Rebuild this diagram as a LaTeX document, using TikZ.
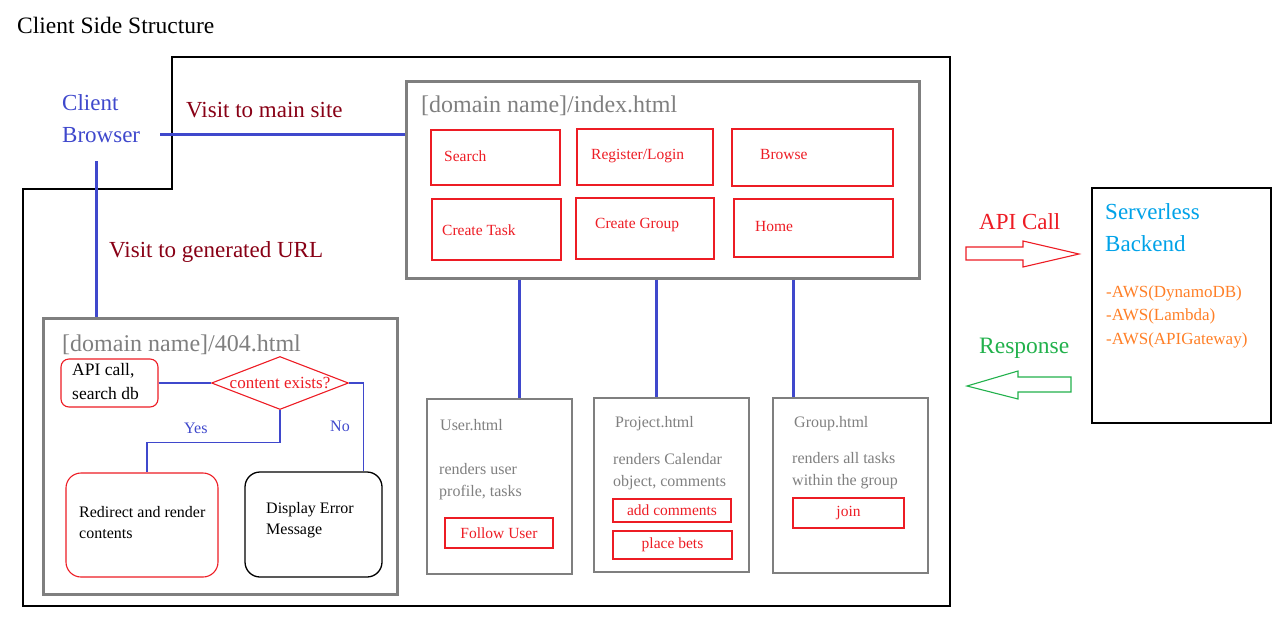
\documentclass[tikz,border=0pt]{standalone}
\usepackage{fontspec}
\setmainfont{Liberation Serif}
\usetikzlibrary{shapes.geometric,fit,calc}
\definecolor{pred}{HTML}{ED1C24}
\definecolor{pblue}{HTML}{3F48CC}
\definecolor{pdark}{HTML}{880015}
\definecolor{pgray}{HTML}{7F7F7F}
\definecolor{pcyan}{HTML}{00A2E8}
\definecolor{porange}{HTML}{FF7F27}
\definecolor{pgreen}{HTML}{22B14C}
\newcommand\fsz[2]{\fontsize{#1}{#2}\selectfont}
\begin{document}
\begin{tikzpicture}[x=1pt,y=-1pt,
  txt/.style={inner sep=0pt, anchor=base west},
  blk/.style={inner sep=0pt, anchor=north west, align=left},
  rbox/.style={draw=pred, line width=1.1pt, inner sep=0pt},
  gbox/.style={draw=pgray, line width=3pt, inner sep=0pt},
  pbox/.style={draw=pgray, line width=1.2pt, inner sep=0pt},
  kbox/.style={draw=black, line width=1.3pt, inner sep=0pt},
  bline/.style={draw=pblue, line width=3pt},
  tline/.style={draw=pblue, line width=1.1pt},
  btn/.style={text=pred, font=\fsz{15.5}{18}},
  ptitle/.style={text=pgray, font=\fsz{16}{20}},
  pdesc/.style={blk, text=pgray, font=\fsz{16}{22}},
  big/.style={font=\fsz{23}{32}},
]
\useasboundingbox (0,0) rectangle (1284,632);

% outer frame
\draw[line width=1.3pt] (172,57) -- (950,57) -- (950,606) -- (23,606) -- (23,189) -- (172,189) -- cycle;

\node[txt, font=\fsz{23.5}{28}] (title) at (17,33) {Client Side Structure};
\node[blk, big, text=pblue] (browser) at (62,94.3) {Client\\Browser};
\coordinate (cbR) at (160,134);
\coordinate (cbB) at (96,161);
\node[txt, big, text=pdark] (lmain) at (186,117) {Visit to main site};
\node[txt, big, text=pdark] (lgen) at (109,257) {Visit to generated URL};

% index.html
\node[gbox, fit={(406,81) (919,278)}] (index) {};
\node[txt, text=pgray, font=\fsz{24}{28}] (indext) at (421,112) {[domain name]/index.html};
\node[rbox, fit={(431,130) (560,185)}] (bsearch) {};
\node[txt, btn] (tsearch) at (444,161) {Search};
\node[rbox, fit={(577,129) (713,185)}] (breg) {};
\node[txt, btn] (treg) at (591,159) {Register/Login};
\node[rbox, fit={(732,129) (893,186)}] (bbrowse) {};
\node[txt, btn] (tbrowse) at (760,159) {Browse};
\node[rbox, fit={(432,199) (561,260)}] (btask) {};
\node[txt, btn] (ttask) at (442,235) {Create Task};
\node[rbox, fit={(576,198) (714,259)}] (bgroup) {};
\node[txt, btn] (tgroup) at (595,228) {Create Group};
\node[rbox, fit={(734,199) (893,257)}] (bhome) {};
\node[txt, btn] (thome) at (755,231) {Home};

\draw[bline] (cbR) -- (cbR -| index.west);

% pages
\node[pbox, fit={(427,399) (572,574)}] (user) {};
\node[pbox, fit={(594,398) (749,572)}] (project) {};
\node[pbox, fit={(773,398) (928,573)}] (group) {};
\coordinate (l1) at (519,0);
\coordinate (l2) at (656,0);
\coordinate (l3) at (793,0);
\draw[bline] (l1 |- index.south) -- (l1 |- user.north);
\draw[bline] (l2 |- index.south) -- (l2 |- project.north);
\draw[bline] (l3 |- index.south) -- (l3 |- group.north);

\node[txt, ptitle] (utitle) at (440,430) {User.html};
\node[pdesc] (udesc) at (439,463) {renders user\\profile, tasks};
\node[rbox, fit={(445,518) (553,548)}] (bfollow) {};
\node[btn, inner sep=0pt] (tfollow) at (bfollow.center) {Follow User};

\node[txt, ptitle] (ptitle) at (615,427) {Project.html};
\node[pdesc] (pdesc) at (613,453) {renders Calendar\\object, comments};
\node[rbox, fit={(613,499) (731,522)}] (badd) {};
\node[btn, inner sep=0pt] (tadd) at (badd.center) {add comments};
\node[rbox, fit={(613,531) (732,559)}] (bbets) {};
\node[btn, inner sep=0pt] (tbets) at (bbets.center) {place bets};

\node[txt, ptitle] (gtitle) at (794,427) {Group.html};
\node[pdesc] (gdesc) at (792,452) {renders all tasks\\within the group};
\node[rbox, fit={(793,498) (904,528)}] (bjoin) {};
\node[btn, inner sep=0pt] (tjoin) at (bjoin.center) {join};

% 404.html
\node[gbox, fit={(43,318) (397,594)}] (e404) {};
\draw[bline] (cbB) -- (cbB |- e404.north);
\node[txt, text=pgray, font=\fsz{24}{28}] (e404t) at (62,351) {[domain name]/404.html};
\node[rbox, rounded corners=8pt, fit={(61,359) (158,407)}] (api) {};
\node[blk, font=\fsz{17.5}{24}] (apit) at (72,363) {API call,\\search db};
\node[draw=pred, line width=1.1pt, diamond, minimum width=137pt, minimum height=53pt, inner sep=0pt] (dia) at (280,383) {};
\node[text=pred, font=\fsz{17}{20}, inner sep=0pt] (diat) at (280,383) {content exists?};
\node[rbox, rounded corners=15pt, fit={(66,473) (218,577)}] (redir) {};
\node[blk, font=\fsz{16}{21.5}] (redirt) at (79,506) {Redirect and render\\contents};
\node[kbox, rounded corners=15pt, fit={(245,472) (382,577)}] (err) {};
\node[blk, font=\fsz{16}{21}] (errt) at (266,502) {Display Error\\Message};
\draw[tline] (api.east) -- (dia.west);
\draw[tline] (dia.east) -| ([xshift=-19pt]err.north east);
\draw[tline] (dia.south) -- ++(0,32) -| ([xshift=5pt]redir.north);
\node[txt, text=pblue, font=\fsz{16}{20}] (yes) at (184,433) {Yes};
\node[txt, text=pblue, font=\fsz{16}{20}] (no) at (330,431) {No};

% right side
\node[txt, big, text=pred] (apicall) at (979,229) {API Call};
\draw[draw=pred, line width=1.1pt] (966,247) -- (1023,247) -- (1023,241) -- (1079,254) -- (1023,267) -- (1023,260) -- (966,260) -- cycle;
\node[txt, text=pgreen, font=\fsz{23.5}{28}] (resp) at (979,353) {Response};
\draw[draw=pgreen, line width=1.1pt] (1071,377) -- (1018,377) -- (1018,371) -- (967,386) -- (1018,399) -- (1018,392) -- (1071,392) -- cycle;
\node[kbox, fit={(1092,188) (1271,423)}] (backend) {};
\node[blk, big, text=pcyan] (backt) at (1105,203.3) {Serverless\\Backend};
\node[blk, text=porange, font=\fsz{17}{23.5}] (aws) at (1106,285.4) {-AWS(DynamoDB)\\-AWS(Lambda)\\-AWS(APIGateway)};
\end{tikzpicture}
\end{document}
